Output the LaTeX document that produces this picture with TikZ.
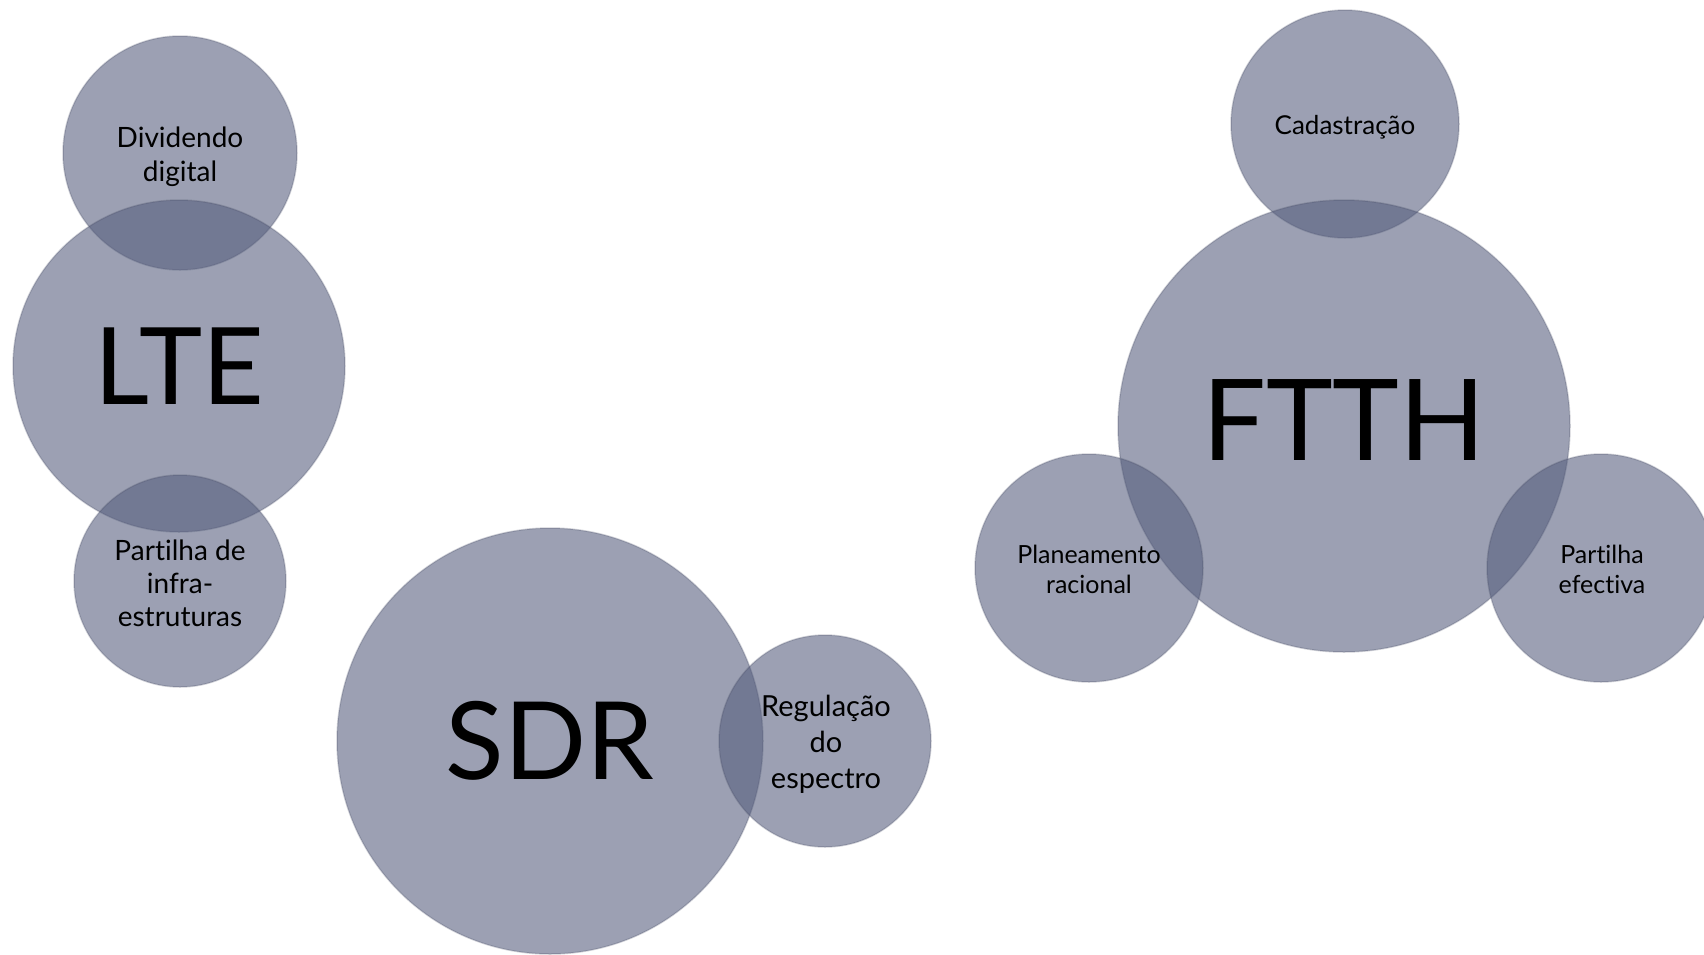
\documentclass[tikz,border=0pt]{standalone}
\usepackage{fontspec}
\setmainfont[Ligatures={NoCommon}]{Lato}
\definecolor{bubble}{RGB}{84,92,124}
\definecolor{rim}{RGB}{70,74,98}
\begin{document}
\begin{tikzpicture}[x=1pt,y=-1pt,
  bub/.style={circle,inner sep=0pt,minimum size=#1,fill=bubble,fill opacity=0.58,draw=rim,draw opacity=0.25,line width=1.5pt},
  big/.style={font=\fontsize{#1}{#1}\selectfont,text=black,inner sep=0pt},
  small/.style 2 args={font=\fontsize{#1}{#2}\selectfont,align=center,text=black,inner sep=0pt}]
\useasboundingbox (0,0) rectangle (1704,954);
% circles
\node[bub=234] (divC) at (180,153) {};
\node[bub=332] (lteC) at (179,366) {};
\node[bub=212] (parC) at (180,581) {};
\node[bub=426] (sdrC) at (550,741) {};
\node[bub=212] (regC) at (825,741) {};
\node[bub=228] (cadC) at (1345,124) {};
\node[bub=452] (ftC) at (1344,426) {};
\node[bub=228] (plaC) at (1089,568) {};
\node[bub=228] (pefC) at (1601,568) {};
% labels (yshift is in page units: positive = up)
\node[small={28}{34}] (divT) at ([yshift=-4]divC.center) {Dividendo\\digital};
\node[big=107] (lteT) at (lteC.center) {LTE};
\node[small={28}{33}] (parT) at ([yshift=-2]parC.center) {Partilha de\\infra-\\estruturas};
\node[big=108] (sdrT) at (sdrC.center) {SDR};
\node[small={29}{36}] (regT) at ([xshift=1,yshift=-3]regC.center) {Regulação\\do\\espectro};
\node[small={26}{30}] (cadT) at ([yshift=-3]cadC.center) {Cadastração};
\node[big=113] (ftT) at ([yshift=6]ftC.center) {FTTH};
\node[small={25}{30}] (plaT) at ([yshift=-1]plaC.center) {Planeamento\\racional};
\node[small={25}{30}] (pefT) at ([xshift=1,yshift=-1]pefC.center) {Partilha\\efectiva};
\end{tikzpicture}
\end{document}
